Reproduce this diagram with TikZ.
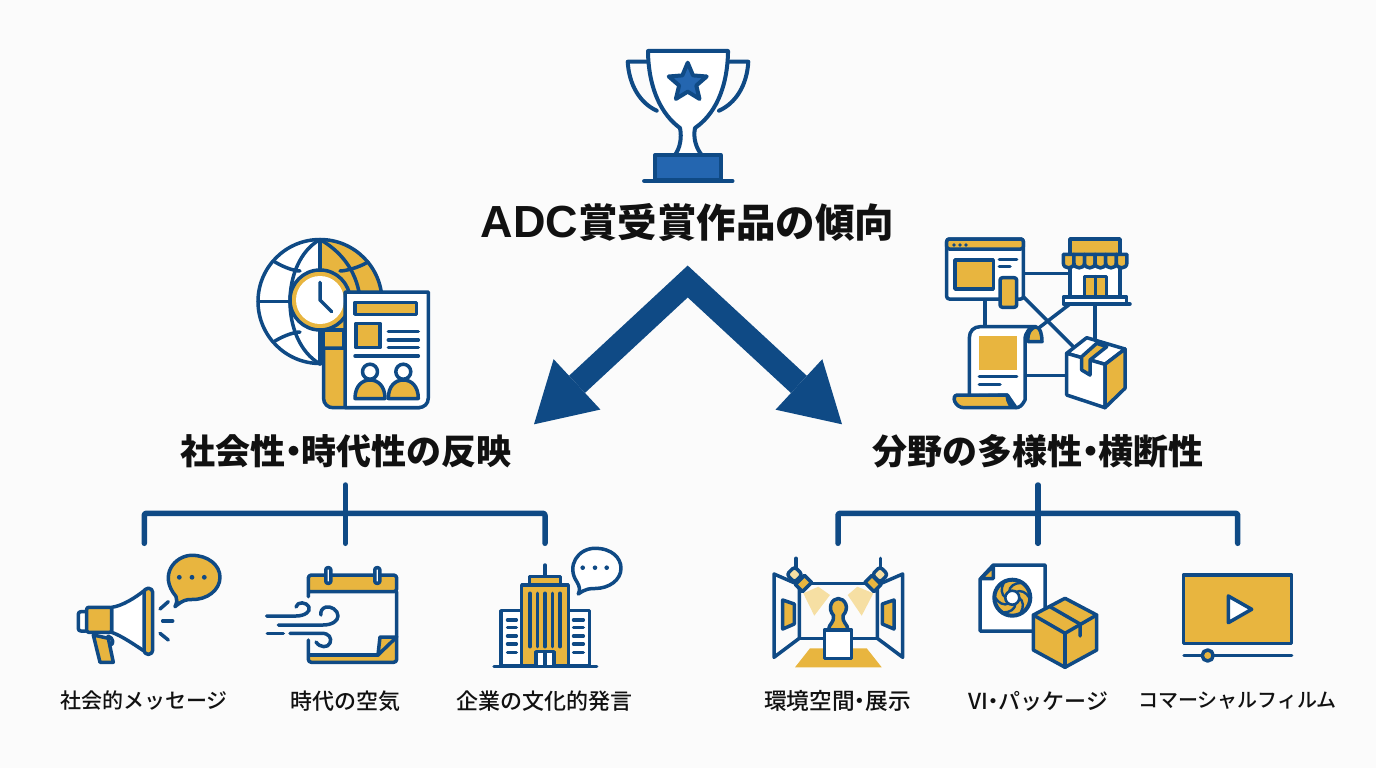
\documentclass[tikz,border=0pt]{standalone}
\usepackage{fontspec}
\usetikzlibrary{arrows.meta}
\setmainfont{Noto Sans CJK JP}
\newfontfamily\latinbold{Liberation Sans}[BoldFont={Liberation Sans Bold}]
\newfontfamily\itemfont{Noto Sans CJK JP Medium}
\definecolor{navy}{HTML}{0F4A85}
\definecolor{gold}{HTML}{E8B53F}
\definecolor{pale}{HTML}{F6DFA3}
\definecolor{royal}{HTML}{2466B0}
\definecolor{paper}{HTML}{FBFBFB}
\definecolor{ink}{HTML}{111111}
\newcommand{\nakaguro}{\kern-.27em・\kern-.27em}
\tikzset{
  ln/.style={draw=navy,line width=3.5pt,line join=round,line cap=round},
  cupln/.style={draw=navy,line width=4pt,line join=round,line cap=round},
  gf/.style={ln,fill=gold},
  treeln/.style={draw=navy,line width=5.5pt,line cap=round,line join=round,rounded corners=2pt},
  bigarrow/.style={draw=navy,line width=23.4pt,line join=miter,
    {Triangle[length=58.7pt,width=68.8pt,line width=0pt,fill=navy]}-{Triangle[length=58.7pt,width=68.8pt,line width=0pt,fill=navy]}},
  titlelabel/.style={text=ink,inner sep=0pt,font=\bfseries\fontsize{39.5}{44}\selectfont},
  sectionlabel/.style={text=ink,inner sep=0pt,font=\bfseries\fontsize{35}{40}\selectfont},
  itemlabel/.style={text=ink,inner sep=0pt,font=\itemfont\fontsize{#1}{26}\selectfont},
}
\begin{document}
\begin{tikzpicture}[x=1pt,y=-1pt]
\useasboundingbox (0,0) rectangle (1376,768);
\fill[paper] (0,0) rectangle (1376,768);

% ---------- texts
\node[titlelabel] (title) at (687.5,223) {{\latinbold\bfseries\fontsize{45}{44}\selectfont ADC}賞受賞作品の傾向};
\node[sectionlabel] (secL) at (346,451) {社会性\nakaguro 時代性の反映};
\node[sectionlabel] (secR) at (1038,451) {分野の多様性\nakaguro 横断性};
\node[itemlabel=21] (i1) at (144,701) {社会的メッセージ};
\node[itemlabel=22] (i2) at (345.5,701) {時代の空気};
\node[itemlabel=22] (i3) at (544.5,701) {企業の文化的発言};
\node[itemlabel=22.7] (i4) at (837.5,701) {環境空間\nakaguro 展示};
\node[itemlabel=22] (i5) at (1038.5,701) {VI\nakaguro パッケージ};
\node[itemlabel=20] (i6) at (1237.5,701) {コマーシャルフィルム};

% ---------- big arrows
\coordinate (apex) at (687.7,281.5);
\coordinate (tipL) at (534,424.3);
\coordinate (tipR) at (842,424.3);
\draw[bigarrow] (tipL) -- (apex) -- (tipR);

% ---------- trees
\foreach \n/\xl/\xm/\xr in {L/144.3/345.3/545,R/838/1038/1237.7}{
  \coordinate (stem\n) at (\xm,485);
  \coordinate (hub\n) at (\xm,513.3);
  \coordinate (mid\n) at (\xm,543.3);
  \coordinate (a\n) at (\xl,543.3);
  \coordinate (b\n) at (\xr,543.3);
  \draw[treeln] (a\n) -- (\xl,513.3) -- (\xr,513.3) -- (b\n);
  \draw[treeln] (stem\n) -- (mid\n);
}

% ---------- trophy
\draw[cupln] (647.7,61.7) -- (627.7,61.7) .. controls (629,85) and (640,103) .. (656.7,110.7);
\draw[cupln] (728.3,61.7) -- (748.3,61.7) .. controls (747,85) and (736,103) .. (719,110.7);
\draw[cupln,fill=white]
  (675,155) .. controls (680,148) and (682,138) .. (680,128)
  .. controls (662,115) and (649,90) .. (648,53) -- (648,51) -- (728,51) -- (728,53)
  .. controls (727,90) and (714,115) .. (695,128)
  .. controls (693,138) and (696,148) .. (701.7,155);
\draw[cupln,fill=royal]
  (687.7,62.7) -- (693,75.4) -- (706.7,76.5) -- (696.3,85.5) -- (699.5,98.9) -- (687.7,91.7)
  -- (675.9,98.9) -- (679.1,85.5) -- (668.7,76.5) -- (682.4,75.4) -- cycle;
\draw[cupln,fill=royal] (655,155) rectangle (720.7,180);
\draw[draw=navy,line width=4.5pt,line cap=round] (644.3,181) -- (732.3,181);

% ---------- globe / clock / newspaper
\fill[white] (320,301.5) circle (62);
\begin{scope}
\clip (320,230) rectangle (390,372);
\fill[gold] (320,301.5) circle (62);
\end{scope}
\draw[ln] (320,301.5) circle (62);
\draw[ln] (320,239.5) -- (320,364);
\draw[ln] (258,301.5) -- (290,301.5);
\draw[ln] (320,239.5) .. controls (280,262) and (280,341) .. (320,364);
\draw[ln] (320,239.5) .. controls (360,262) and (360,300) .. (360,301);
\draw[ln] (275,262) .. controls (285,268) and (295,271) .. (300,271);
\draw[ln] (275,341) .. controls (285,335) and (295,332) .. (300,332);
\draw[ln] (368,262) .. controls (358,268) and (345,271) .. (340,271);
% magnifier
\draw[gf] (323.5,330) rectangle (343.5,350);
\draw[gf] (323.5,348) -- (323.5,398) .. controls (323.5,404) and (328,407.7) .. (333,407.7)
  -- (420,407.7) -- (420,348) -- cycle;
\draw[gf] (320,300) circle (30);
\fill[white] (320,300) circle (24);
\draw[ln] (320,282.3) -- (320,300) -- (331.7,311.7);
% newspaper
\draw[ln,fill=white] (345,407.7) -- (345,292) -- (428.3,292) -- (428.3,398)
  .. controls (428.3,404) and (424,407.7) .. (418,407.7) -- cycle;
\draw[gf] (355,302.3) rectangle (416.7,314.3);
\draw[gf] (356,323.3) rectangle (380,347.7);
\foreach \y in {331.7,340,347.7} \draw[ln] (388.3,\y) -- (418.3,\y);
\draw[ln] (355,356) -- (418.3,356);
\foreach \x in {370,403.3}{
  \draw[ln,fill=white] (\x,371.7) circle (7.5);
  \draw[gf] (\x-15,398.5) .. controls (\x-15,386) and (\x-8,380) .. (\x,380)
     .. controls (\x+8,380) and (\x+15,386) .. (\x+15,398.5) -- cycle;
}

% ---------- omnichannel cluster
\draw[ln] (1023.3,273.3) -- (1070,273.3);
\draw[ln] (985,299) -- (985,327);
\draw[ln] (1023.3,296.7) -- (1073.3,346.7);
\draw[ln] (1070,304) -- (1038.3,328.3);
\draw[ln] (1095,305) -- (1095,340);
\draw[ln] (1025,375.7) -- (1066.7,375.7);
% browser
\draw[ln,fill=white,rounded corners=2.5pt] (946.7,239) rectangle (1023.3,299);
\draw[gf,rounded corners=2.5pt] (946.7,239) rectangle (1023.3,249);
\foreach \x in {954,960,966} \fill[navy] (\x,245) circle (1.9);
\draw[gf] (955,260) rectangle (993.3,289);
\draw[ln] (999.3,259.3) -- (1016.7,259.3);
\draw[ln] (999.3,266.7) -- (1010,266.7);
\draw[gf,rounded corners=2.5pt] (1000,277.7) rectangle (1016.7,307.3);
% store
\draw[ln,fill=white] (1070,254) rectangle (1120,297);
\draw[gf] (1070,239) rectangle (1120,254.3);
\foreach \x in {1063.3,1073.9,1084.5,1095.1,1105.7,1116.3}{
  \draw[gf] (\x,254.3) -- (\x,263) .. controls (\x,269.5) and (\x+10.6,269.5) .. (\x+10.6,263) -- (\x+10.6,254.3) -- cycle;
}
\draw[gf] (1084.3,276.7) rectangle (1106.7,296.7);
\draw[ln] (1095.5,276.7) -- (1095.5,296.7);
\draw[ln,fill=white] (1063.3,297) -- (1126.7,297) -- (1126.7,304) -- (1063.3,304) -- cycle;
\draw[ln] (1126.7,304) -- (1130,304);
% document
\draw[ln,fill=white] (969.3,396) -- (969.3,338) .. controls (969.3,331) and (974,326.7) .. (980,326.7) -- (1036,326.7)
  .. controls (1030,327) and (1025,332) .. (1025,340) -- (1025,400) .. controls (1022,406) and (1019,407.7) .. (1016,407.7)
  -- (1007.3,395) -- cycle;
\draw[gf] (1028,341.7) .. controls (1027,332) and (1032,327) .. (1036,327) .. controls (1040,327) and (1042,334) .. (1042,341.7) -- cycle;
\fill[gold] (979.3,335.7) rectangle (1016.7,370);
\draw[ln] (979.3,376.7) -- (1016.7,376.7);
\draw[ln] (979.3,384.3) -- (1000,384.3);
\draw[gf] (957,395) -- (1007.3,395) .. controls (1007.3,403) and (1011,407.7) .. (1016,407.7) -- (964,407.7)
  .. controls (955,407.7) and (951,396) .. (957,395) -- cycle;
% parcel
\draw[ln,fill=white] (1066.7,353.3) -- (1086.7,337.7) -- (1125,349) -- (1105,364.3) -- cycle;
\draw[ln,fill=white] (1066.7,353.3) -- (1105,364.3) -- (1105,407.7) -- (1066.7,395) -- cycle;
\draw[gf] (1105,364.3) -- (1125,349) -- (1125,388.3) -- (1105,407.7) -- cycle;
\draw[gf] (1096.7,343.3) -- (1106.7,346.7) -- (1090,360) -- (1090,375) -- (1081.7,370) -- (1081.7,356.7) -- cycle;

% ---------- megaphone
\draw[ln,fill=white,rounded corners=2.5pt] (78.3,611.7) rectangle (88,631);
\draw[gf] (93.3,635) -- (108.3,638.3) -- (113.3,662.3) -- (100,662.3) -- cycle;
\draw[ln] (108,636) .. controls (114,638) and (114,645) .. (110,645);
\draw[ln,fill=white] (111.7,607.3) .. controls (122,606) and (135,598) .. (145,590) -- (145,651.7) .. controls (135,645) and (122,636) .. (111.7,632.3) -- cycle;
\draw[gf,rounded corners=2pt] (86.7,607.3) rectangle (111.7,632.3);
\draw[gf,rounded corners=4pt] (144,588.3) rectangle (152.7,654.3);
\draw[ln] (160,609) -- (168.3,601.7);
\draw[ln] (162.7,621) -- (172.7,621);
\draw[ln] (160,633.3) -- (168.3,640);
\draw[gf] (175,606.7) .. controls (177,602) and (177.5,600) .. (176,596.5)
  .. controls (158,575) and (175,555.5) .. (191.7,555.3) .. controls (208,555.3) and (220,565) .. (220,577.3)
  .. controls (220,590) and (207,600) .. (191.7,599.5) .. controls (186,599.5) and (183,600) .. (175,606.7) -- cycle;
\foreach \x in {179.3,192,204.3} \fill[navy] (\x,577.3) circle (2.4);

% ---------- calendar and wind
\fill[gold] (308.3,655) rectangle (396.7,662.3);
\fill[gold] (378,655) -- (396.7,637) -- (396.7,662) -- (378,662) -- cycle;
\draw[gf,rounded corners=3pt] (308.3,596.7) -- (308.3,575) -- (396.7,575) -- (396.7,591.7) -- (308.3,591.7);
\draw[ln,rounded corners=3pt] (396.7,591.7) -- (396.7,662.3) -- (308.3,662.3) -- (308.3,640);
\draw[ln] (310,655) -- (378,655);
\draw[gf] (380,637) -- (396.7,637) -- (378,655) -- cycle;
\foreach \x in {328.3,377.3}{
  \draw[ln,fill=white,rounded corners=2pt] (\x-2.5,567.7) rectangle (\x+2.5,583.3);
}
\draw[ln] (266.7,616) -- (296,616) .. controls (304,616) and (311,612) .. (309,607) .. controls (307,602) and (297,601) .. (296,607);
\draw[ln] (278.3,625) -- (323,625) .. controls (332,625) and (338,621) .. (338,616) .. controls (338,610) and (331,606) .. (326,607) .. controls (322,608) and (320,612) .. (321,615);
\draw[ln] (267.3,633.3) -- (283.3,633.3);
\draw[ln] (290,633.3) -- (322,633.3) .. controls (329,633.3) and (332,638) .. (330,643) .. controls (328,648) and (320,648) .. (316,642);

% ---------- office building
\draw[ln] (545,565) -- (545,577);
\draw[gf] (529.3,576.7) rectangle (560.7,585);
\draw[ln,fill=white] (501,610.7) rectangle (521.7,666);
\draw[ln,fill=white] (568.3,610.7) rectangle (589.3,666);
\draw[gf] (521.7,585) rectangle (568.3,666);
\foreach \x in {530,537.3,545,552.3,560} \draw[ln] (\x,593.3) -- (\x,646.7);
\draw[ln,fill=white] (536,666) -- (536,651.7) -- (554,651.7) -- (554,666);
\draw[ln] (545,651.7) -- (545,666);
\foreach \y in {620,627.7,636,644,652.3}{
  \draw[ln] (507.5,\y) -- (516.3,\y);
  \draw[ln] (573.5,\y) -- (583.3,\y);
}
\draw[ln] (494,666.7) -- (596.7,666.7);
\draw[ln,fill=white] (578.3,594) .. controls (580,590) and (580,587) .. (577,582)
  .. controls (566,566) and (578,548.3) .. (595,548.3) .. controls (612,548.3) and (621,558) .. (621,568.3)
  .. controls (621,580) and (609,588.5) .. (595,588.5) .. controls (590,588.5) and (586,588.5) .. (578.3,594) -- cycle;
\foreach \x in {582.7,595,606.7} \fill[navy] (\x,567.7) circle (2.3);

% ---------- exhibition
\fill[pale] (803.3,593.3) -- (818.3,586.7) -- (830,595) -- (814.3,615.7) -- cycle;
\fill[pale] (873.3,593.3) -- (857.3,586.7) -- (847.7,595) -- (861.7,615.7) -- cycle;
\draw[ln] (811.7,583.3) -- (865,583.3);
\draw[ln] (799.3,638.3) -- (877.3,638.3);
\draw[ln] (774,574) -- (799.3,585) -- (799.3,638.3) -- (774,657.3) -- cycle;
\draw[ln] (902.7,574) -- (877.3,585) -- (877.3,638.3) -- (902.7,657.3) -- cycle;
\draw[gf] (782.7,600) -- (794.3,604) -- (794.3,624) -- (782.7,629) -- cycle;
\draw[gf] (894,600) -- (882.3,604) -- (882.3,624) -- (894,629) -- cycle;
\fill[gold] (810,648.3) -- (866.7,648.3) -- (881.7,667.3) -- (795,667.3) -- cycle;
\draw[ln] (796,558.3) -- (796,568);
\draw[ln] (880.5,558.3) -- (880.5,568);
\draw[ln,fill=pale,rotate around={45:(794.5,574.5)},rounded corners=3pt] (789,569) rectangle (800,580);
\draw[ln,fill=pale,rotate around={-45:(880,574.5)},rounded corners=3pt] (874.5,569) rectangle (885.5,580);
\draw[gf,rotate around={45:(803.5,583.5)}] (797,578.5) rectangle (810,588.5);
\draw[gf,rotate around={-45:(873,583.5)}] (866.5,578.5) rectangle (879.5,588.5);
\draw[gf] (828.5,630) .. controls (829,623) and (834,624) .. (833.5,615.5) .. controls (827,608) and (832,598.5) .. (838.3,598.5)
  .. controls (845,598.5) and (850,608) .. (843,615.5) .. controls (842.5,624) and (847.5,623) .. (848,630) -- cycle;
\draw[ln,fill=white] (824.3,630) rectangle (851.7,658.3);

% ---------- VI / package
\draw[ln,fill=white] (993.3,565) -- (1045,565) -- (1045,631) -- (980,631) -- (980,579.3) -- cycle;
\draw[gf] (981,578.5) -- (993.3,578.5) -- (993.3,566) -- cycle;
\draw[draw=navy,line width=4pt,fill=gold] (1012.3,597.7) circle (18);
\begin{scope}[shift={(1012.3,597.7)}]
\foreach \a in {0,60,120,180,240,300}{
  \draw[draw=navy,line width=2.4pt,line cap=round] (\a:6.5) .. controls (\a+15:12) and (\a+40:15) .. (\a+60:17);
}
\draw[draw=navy,line width=2.6pt,fill=white] (0,0) circle (7);
\end{scope}
\draw[gf] (1065,598.3) -- (1096.7,615) -- (1096.7,650) -- (1065,667.3) -- (1033.3,650) -- (1033.3,615) -- cycle;
\draw[ln] (1033.3,615) -- (1065,633.3) -- (1096.7,615);
\draw[ln] (1065,633.3) -- (1065,667.3);
\draw[ln] (1050,606.7) -- (1080,624) -- (1080,636);

% ---------- video
\draw[gf] (1183.3,575) rectangle (1291.7,643.3);
\draw[ln,fill=white] (1228.3,596) -- (1251.7,609.3) -- (1228.3,622.7) -- cycle;
\draw[ln] (1184,655.3) -- (1291.7,655.3);
\draw[gf] (1207.7,655.5) circle (5.5);
\end{tikzpicture}
\end{document}
